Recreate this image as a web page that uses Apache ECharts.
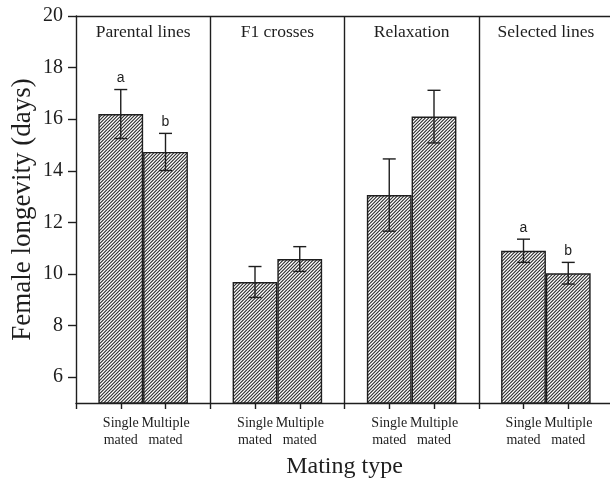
<!DOCTYPE html>
<html>
<head>
<meta charset="utf-8">
<script src="https://cdn.jsdelivr.net/npm/echarts@6/dist/echarts.min.js"></script>
<style>
  html, body { margin: 0; padding: 0; background: #ffffff; }
  #chart { width: 610px; height: 482px; }
</style>
</head>
<body>
<div id="chart"></div>
<script>
// Female longevity (days) by mating type, four line groups
const groups = ['Parental lines', 'F1 crosses', 'Relaxation', 'Selected lines'];
const matingTypes = ['Single\nmated', 'Multiple\nmated'];
const barPositions = [1, 2, 4, 5, 7, 8, 10, 11];
const longevity = [16.2, 14.73, 9.69, 10.58, 13.06, 16.1, 10.9, 10.03];
const stdError = [0.95, 0.72, 0.6, 0.48, 1.4, 1.02, 0.45, 0.42];
const sigLetters = ['a', 'b', '', '', '', '', 'a', 'b'];
const yTicks = [6, 8, 10, 12, 14, 16, 18, 20];
const groupEdges = [3, 6, 9];
const groupCenters = [1.5, 4.5, 7.5, 10.5];
const yMin = 5, yMax = 20, xMin = 0, xMax = 12;

const INK = '#1e1e1e';
const SERIF = '"Liberation Serif", "Times New Roman", serif';

// diagonal "///" hatch fill for the bars
function hatchPattern() {
  const s = 10, n = 3, step = s / n;
  const c = document.createElement('canvas');
  c.width = s; c.height = s;
  const g = c.getContext('2d');
  g.fillStyle = '#ffffff';
  g.fillRect(0, 0, s, s);
  g.strokeStyle = '#2a2a2a';
  g.lineWidth = 1.1;
  for (let k = -2; k <= 2 * n + 2; k++) {
    const off = k * step;
    // segment of the line x + y = off
    g.beginPath();
    g.moveTo(off + 2, -2);
    g.lineTo(off - s - 2, s + 2);
    g.stroke();
  }
  return c;
}

const chart = echarts.init(document.getElementById('chart'), null, { renderer: 'canvas' });

const axisLineStyle = { color: INK, width: 1.4 };

const option = {
  animation: false,
  backgroundColor: '#ffffff',
  grid: { left: 76, right: -3, top: 16, bottom: 79, containLabel: false, outerBoundsMode: 'none' },
  xAxis: [
    {
      type: 'value',
      min: xMin, max: xMax, interval: 1,
      name: 'Mating type',
      nameLocation: 'middle',
      nameGap: 52,
      nameMoveOverlap: false,
      nameTextStyle: { fontFamily: SERIF, fontSize: 24, color: INK },
      axisLine: { show: true, lineStyle: axisLineStyle },
      axisTick: { show: true, inside: false, length: 6, lineStyle: axisLineStyle },
      axisLabel: {
        customValues: barPositions,
        showMinLabel: true,
        showMaxLabel: true,
        hideOverlap: false,
        margin: 12,
        fontFamily: SERIF, fontSize: 14, lineHeight: 17, color: INK,
        formatter: v => matingTypes[(Math.round(v) % 3) - 1]
      },
      splitLine: { show: false }
    },
    {
      type: 'value',
      position: 'top',
      min: xMin, max: xMax,
      axisLine: { show: true, lineStyle: axisLineStyle },
      axisTick: { show: false },
      axisLabel: { show: false },
      splitLine: { show: false }
    }
  ],
  yAxis: {
    type: 'value',
    min: yMin, max: yMax,
    name: 'Female longevity (days)',
    nameLocation: 'middle',
    nameGap: 40,
    nameMoveOverlap: false,
    nameTextStyle: { fontFamily: SERIF, fontSize: 27, color: INK },
    axisLine: { show: true, lineStyle: axisLineStyle },
    axisTick: { show: true, inside: false, length: 8, customValues: yTicks, lineStyle: axisLineStyle },
    axisLabel: { customValues: yTicks, showMinLabel: true, showMaxLabel: true, margin: 13, fontFamily: SERIF, fontSize: 20, color: INK },
    splitLine: { show: false }
  },
  series: [
    {
      type: 'bar',
      xAxisIndex: 0,
      barWidth: 44.8,
      data: barPositions.map((x, i) => [x, longevity[i]]),
      itemStyle: {
        color: { image: hatchPattern(), repeat: 'repeat' },
        borderColor: INK,
        borderWidth: 1.4
      },
      markLine: {
        silent: true,
        symbol: 'none',
        label: { show: false },
        lineStyle: { color: INK, width: 1.4, type: 'solid' },
        data: groupEdges.map(v => ({ xAxis: v }))
      }
    },
    {
      // error bars and significance letters
      type: 'custom',
      xAxisIndex: 0,
      z: 5,
      data: barPositions.map((x, i) => [x, longevity[i], stdError[i]]),
      renderItem(params, api) {
        const i = params.dataIndex;
        const x = api.value(0), m = api.value(1), e = api.value(2);
        const top = api.coord([x, m + e]);
        const bot = api.coord([x, m - e]);
        const hw = 6.5;
        const style = { stroke: INK, lineWidth: 1.4 };
        const children = [
          { type: 'line', shape: { x1: top[0], y1: top[1], x2: bot[0], y2: bot[1] }, style },
          { type: 'line', shape: { x1: top[0] - hw, y1: top[1], x2: top[0] + hw, y2: top[1] }, style },
          { type: 'line', shape: { x1: bot[0] - hw, y1: bot[1], x2: bot[0] + hw, y2: bot[1] }, style }
        ];
        if (sigLetters[i]) {
          children.push({
            type: 'text',
            style: {
              text: sigLetters[i], x: top[0], y: top[1] - 4,
              align: 'center', verticalAlign: 'bottom',
              font: '14px "Liberation Sans", Arial, sans-serif', fill: INK
            }
          });
        }
        return { type: 'group', children };
      }
    },
    {
      // group titles along the top of each panel
      type: 'custom',
      xAxisIndex: 0,
      z: 5,
      data: groupCenters.map(c => [c, yMax]),
      renderItem(params, api) {
        const p = api.coord([api.value(0), api.value(1)]);
        return {
          type: 'text',
          style: {
            text: groups[params.dataIndex], x: p[0], y: p[1] + 16,
            align: 'center', verticalAlign: 'middle',
            font: '17.5px ' + SERIF, fill: INK
          }
        };
      }
    }
  ]
};

chart.setOption(option);
</script>
</body>
</html>
